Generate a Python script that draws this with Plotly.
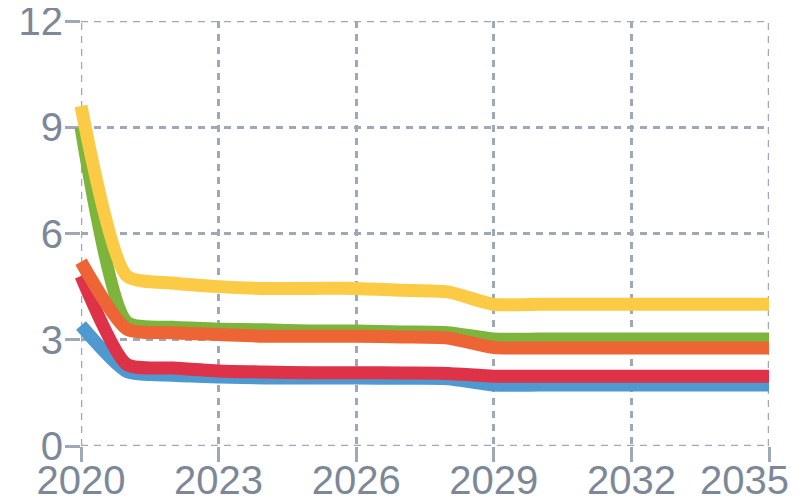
import plotly.graph_objects as go

years = list(range(2020, 2036))
yellow = [9.6, 4.8, 4.6, 4.5, 4.45, 4.45, 4.45, 4.4, 4.35, 4.0, 4.0, 4.0, 4.0, 4.0, 4.0, 4.0]
green = [9.0, 3.5, 3.35, 3.3, 3.28, 3.25, 3.25, 3.22, 3.2, 3.02, 3.02, 3.02, 3.02, 3.02, 3.02, 3.02]
orange = [5.2, 3.3, 3.2, 3.15, 3.1, 3.1, 3.1, 3.08, 3.05, 2.78, 2.77, 2.77, 2.77, 2.77, 2.77, 2.77]
red = [4.8, 2.3, 2.2, 2.12, 2.09, 2.07, 2.07, 2.06, 2.05, 1.97, 1.97, 1.97, 1.97, 1.97, 1.97, 1.97]
blue = [3.4, 2.1, 2.0, 1.95, 1.92, 1.92, 1.92, 1.91, 1.9, 1.72, 1.72, 1.72, 1.72, 1.72, 1.72, 1.72]

x_ticks = [2020, 2023, 2026, 2029, 2032, 2035]
y_ticks = [0, 3, 6, 9, 12]

series = [
    ("blue", blue, "#4E9AD0"),
    ("red", red, "#DE3249"),
    ("green", green, "#7DB43B"),
    ("orange", orange, "#EE6535"),
    ("yellow", yellow, "#FBCB45"),
]

gridc = "#9DA9B7"
labc = "#7C8898"
font = "Liberation Sans, Arial, sans-serif"
fsize = 40
dash = "7px,6px"

# layout geometry (figure coords; page body adds 8px offset)
fig_w, fig_h = 794, 494
m_l, m_r, m_t, m_b = 60, 33, 13, 56
extra_left = 13  # px of room left of the visible axis so line ends are not clipped
plot_w = fig_w - m_l - m_r
dom0 = extra_left / plot_w

xmin, xmax = x_ticks[0], x_ticks[-1]
ymin, ymax = y_ticks[0], y_ticks[-1]
yrs_per_px = (xmax - xmin) / (plot_w - extra_left)

fig = go.Figure()
for name, vals, col in series:
    fig.add_trace(go.Scatter(x=years, y=vals, mode="lines", name=name, xaxis="x2", yaxis="y",
                             line=dict(color=col, width=13, shape="spline", smoothing=0.6)))

axis_common = dict(showgrid=True, gridcolor=gridc, gridwidth=2.5, griddash=dash,
                   zeroline=False, showline=False, ticks="outside", ticklen=15,
                   tickcolor=gridc, tickwidth=2.5, automargin=False,
                   ticklabeloverflow="allow",
                   tickfont=dict(family=font, size=fsize, color=labc))

fig.update_layout(
    xaxis=dict(range=[xmin, xmax], domain=[dom0, 1], tickvals=x_ticks,
               ticktext=[str(v) for v in x_ticks[:-1]] + [""],
               ticklabelstandoff=-16, **axis_common),
    yaxis=dict(range=[ymin, ymax], tickvals=y_ticks, ticklabelstandoff=-6, anchor="x",
               **axis_common),
    xaxis2=dict(range=[xmin - extra_left * yrs_per_px, xmax], domain=[0, 1],
                anchor="y", visible=False, showgrid=False, zeroline=False),
)

# edge grid lines
for xv in (xmin, xmax):
    fig.add_shape(type="line", xref="x", yref="y", x0=xv, x1=xv, y0=ymin, y1=ymax,
                  line=dict(color=gridc, width=2.5, dash=dash), layer="below")
for yv in (ymin, ymax):
    fig.add_shape(type="line", xref="x", yref="y", x0=xmin, x1=xmax, y0=yv, y1=yv,
                  line=dict(color=gridc, width=2.5, dash=dash), layer="below")

# last x tick label, shifted to stay inside the canvas
fig.add_annotation(x=xmax, y=0, xref="x", yref="paper", text=str(xmax), showarrow=False,
                   xanchor="right", yanchor="top", xshift=22, yshift=-10,
                   font=dict(family=font, size=fsize, color=labc))

fig.update_layout(width=fig_w, height=fig_h, showlegend=False,
                  margin=dict(l=m_l, r=m_r, t=m_t, b=m_b),
                  plot_bgcolor="rgba(0,0,0,0)", paper_bgcolor="white")

fig.write_html("out.html")
